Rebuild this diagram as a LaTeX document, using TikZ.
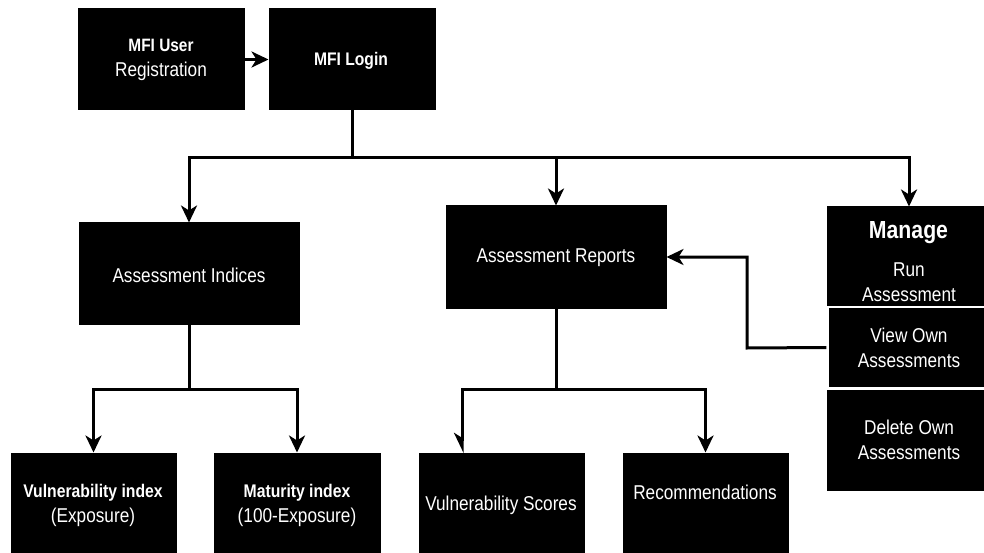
\documentclass[tikz,border=0pt]{standalone}
\usepackage{fontspec}
\setmainfont{Liberation Sans}[FakeStretch=0.86]
\usetikzlibrary{arrows.meta,calc}

\begin{document}
\begin{tikzpicture}[x=1pt,y=-1pt,
  box/.style={fill=black,draw=black,line width=1pt,inner sep=0pt},
  txt/.style={text=white,align=center,inner sep=0pt,font=\fontsize{20}{25}\selectfont},
  bf/.style={font=\fontsize{18.2}{25}\selectfont\bfseries},
  btxt/.style={text=white,align=center,inner sep=0pt,bf},
  conn/.style={line width=3pt,draw=black},
  arr/.style={conn,-{Stealth[length=17pt,width=16pt,inset=5pt]}},
  harr/.style={conn,-{Stealth[length=17pt,width=16pt,inset=5pt,right]}}
]
\useasboundingbox (0,0) rectangle (984,553);
\clip (0,0) rectangle (984,553);
\fill[white] (0,0) rectangle (984,553);

% top row
\node[box,minimum width=166pt,minimum height=101pt] (reg) at (161,59.5) {};
\node[box,minimum width=166pt,minimum height=101pt] (login) at (352,59.5) {};
\node[txt] (regT) at (161,60) {\textbf{\fontsize{17.9}{25}\selectfont MFI User}\\Registration};
\node[btxt] (loginT) at (351,61) {MFI Login};

% second row
\node[box,minimum width=220pt,minimum height=101pt] (ind) at (189,273.5) {};
\node[txt] (indT) at (189,275) {Assessment Indices};
\node[box,minimum width=220pt,minimum height=102pt] (rep) at (556,257) {};
\node[txt] (repT) at (556,258) {Assessment Reports};

% manage column
\node[box,minimum width=164pt,minimum height=98pt] (run) at (909,256) {};
\node[box,minimum width=164pt,minimum height=100pt] (del) at (909,440) {};
\node[box,draw=white,line width=2.5pt,minimum width=164pt,minimum height=81pt] (view) at (909.5,347.5) {};
\node[text=white,font=\fontsize{24.7}{30}\selectfont\bfseries,inner sep=0pt] (manT) at (908.5,233) {Manage};
\node[txt] (runT) at (909,282) {Run\\Assessment};
\node[txt] (viewT) at (909,348) {View Own\\Assessments};
\node[txt] (delT) at (909,440) {Delete Own\\Assessments};

% bottom row
\node[box,minimum width=165pt,minimum height=110pt] (vi) at (93.5,508) {};
\node[box,minimum width=166pt,minimum height=110pt] (mi) at (297,508) {};
\node[box,minimum width=165pt,minimum height=110pt] (vs) at (501.5,508) {};
\node[box,minimum width=165pt,minimum height=110pt] (rec) at (705.5,508) {};
\node[txt] (viT) at (93,505) {\textbf{\fontsize{18.3}{25}\selectfont Vulnerability index}\\(Exposure)};
\node[txt] (miT) at (297,505) {\textbf{\fontsize{18.3}{25}\selectfont Maturity index}\\(100-Exposure)};
\node[txt] (vsT) at (501,505) {Vulnerability Scores};
\node[txt] (recT) at (705,492) {Recommendations};

% connectors
\draw[arr] (reg.east) -- (login.west);
\draw[conn] (login.south) -- (352,158) coordinate (j1);
\draw[arr] (j1) -| (ind.north);
\draw[arr] (j1) -| (run.north);
\draw[arr] (j1 -| rep.north) -- (rep.north);

\draw[arr] (view.west) -- (747,348) |- (rep.east);

\draw[conn] (ind.south) -- (189,389) coordinate (j2);
\draw[arr] (j2) -| (vi.north);
\draw[arr] (j2) -| (mi.north);

\draw[conn] (rep.south) -- (556,389) coordinate (j3);
\coordinate (vsIn) at (462,453);
\draw[harr] (j3) -| (vsIn);
\draw[arr] (j3) -| (rec.north);
\end{tikzpicture}
\end{document}
